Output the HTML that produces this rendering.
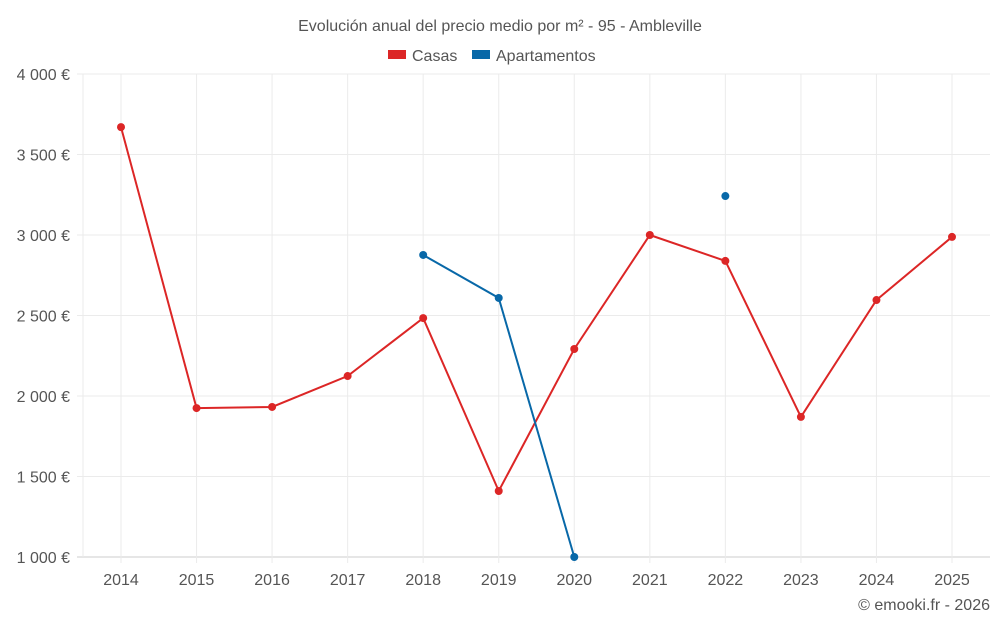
<!DOCTYPE html>
<html><head><meta charset="utf-8"><style>
body{margin:0;background:#fff;font-family:"Liberation Sans",sans-serif}
svg text{font-family:"Liberation Sans",sans-serif}
</style></head><body>
<svg id="c" width="1000" height="625">
<text x="500" y="31" text-anchor="middle" font-size="16" fill="#555">Evolución anual del precio medio por m² - 95 - Ambleville</text>
<g>
<g><rect x="388" y="50" width="18" height="9" fill="#dc2626"/><text x="412" y="61" font-size="16" fill="#555">Casas</text></g>
<g><rect x="472" y="50" width="18" height="9" fill="#0868a8"/><text x="496" y="61" font-size="16" fill="#555">Apartamentos</text></g>
</g>
<g id="grid"></g><g id="ax"></g><g id="series"></g>
<text x="990" y="610" text-anchor="end" font-size="16" fill="#555">© emooki.fr - 2026</text>
</svg>
<script>
const years=["2014","2015","2016","2017","2018","2019","2020","2021","2022","2023","2024","2025"];
const casas=[3670,1925,1932,2124,2484,1410,2292,3000,2839,1870,2596,2988];
const apartamentos=[null,null,null,null,2876,2609,1000,null,3242,null,null,null];
const yTicks=[1000,1500,2000,2500,3000,3500,4000];
const yLabels=["1 000 €","1 500 €","2 000 €","2 500 €","3 000 €","3 500 €","4 000 €"];
const NS="http://www.w3.org/2000/svg";
const L=83,R=990,T=74,B=557;
const x=i=>121+i*(952-121)/(years.length-1);
const y=v=>B-(v-1000)/3000*(B-T);
function mk(t,a,p){const e=document.createElementNS(NS,t);for(const k in a)e.setAttribute(k,a[k]);p.appendChild(e);return e;}
const g=document.getElementById('grid'),ax=document.getElementById('ax'),s=document.getElementById('series');
yTicks.forEach((v,i)=>{
 const l=mk('line',{x1:77,x2:R,y1:y(v),y2:y(v),stroke:i==0?'#ccc':'#ebebeb'},g);
 
 
 const t=mk('text',{x:70,y:y(v)+6,'text-anchor':'end','font-size':16,fill:'#555'},ax);t.textContent=yLabels[i];
 
 
});
const lg=mk('line',{x1:L,x2:L,y1:T,y2:B,stroke:'#ebebeb'},g);


years.forEach((yr,i)=>{
 const l=mk('line',{x1:x(i),x2:x(i),y1:T,y2:B+6,stroke:'#ebebeb'},g);
 
 
 const t=mk('text',{x:x(i),y:585,'text-anchor':'middle','font-size':16,fill:'#555'},ax);t.textContent=yr;
 
 
});
function draw(data,color,name){
 let segs=[],cur=[];
 data.forEach((v,i)=>{if(v==null){if(cur.length)segs.push(cur);cur=[];}else cur.push([x(i),y(v)]);});
 if(cur.length)segs.push(cur);
 segs.forEach(sg=>{if(sg.length>1){const p=mk('polyline',{points:sg.map(q=>q.join(',')).join(' '),fill:'none',stroke:color,'stroke-width':2},s);
  
  }});
 data.forEach((v,i)=>{if(v==null)return;const c=mk('circle',{cx:x(i),cy:y(v),r:4,fill:color},s);
  
  });
}
draw(casas,'#dc2626','casas');
draw(apartamentos,'#0868a8','apartamentos');
</script>
</body></html>
